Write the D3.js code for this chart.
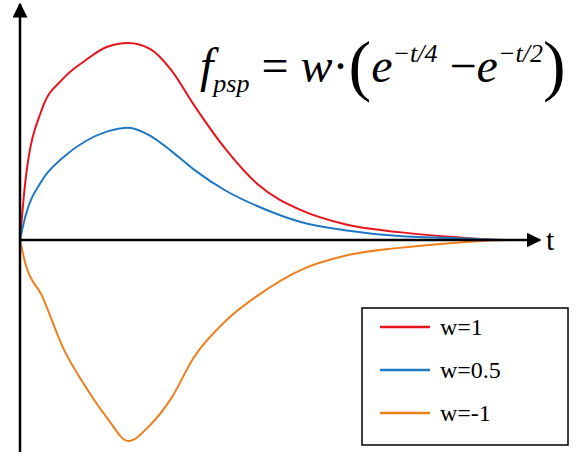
<!DOCTYPE html>
<html><head><meta charset="utf-8">
<script src="https://cdn.jsdelivr.net/npm/d3@7"></script>
<style>body{margin:0;background:#fff} text{font-family:"Liberation Serif","DejaVu Serif",serif}</style>
</head><body>
<svg id="c" width="588" height="458"></svg>
<script>
const tValues = [0, 0.25, 1, 2, 3, 4, 5, 6, 7, 8, 9.5, 11, 13, 15, 17.5, 20, 22.5, 24]
const redValues = [0, 0.3, 0.66, 0.82, 0.91, 0.98, 1.0, 0.97, 0.86, 0.69, 0.46, 0.28, 0.15, 0.08, 0.04, 0.015, 0, 0]
const blueValues = [0, 0.12, 0.3, 0.42, 0.5, 0.55, 0.57, 0.53, 0.45, 0.36, 0.25, 0.17, 0.09, 0.05, 0.02, 0.01, 0, 0]
const orangeValues = [0, -0.12, -0.28, -0.55, -0.74, -0.9, -1.02, -0.94, -0.8, -0.6, -0.41, -0.28, -0.15, -0.08, -0.04, -0.015, 0, 0]
const legendLabels = ['w=1', 'w=0.5', 'w=-1']
const colors = ['#e8141c', '#1f78c4', '#ee7f1c']

const svg = d3.select('#c')
const x = d3.scaleLinear().domain([0, 24]).range([20, 540])
const y = d3.scaleLinear().domain([-1, 1]).range([437, 43])

const defs = svg.append('defs')
defs.append('marker').attr('id', 'arr').attr('viewBox', '0 0 10 10').attr('refX', 9).attr('refY', 5)
  .attr('markerWidth', 6).attr('markerHeight', 6).attr('orient', 'auto')
  .append('path').attr('d', 'M0,0L10,5L0,10z').attr('fill', '#000')

const line = d3.line().x((d, i) => x(tValues[i])).y(d => y(d)).curve(d3.curveMonotoneX)
;[redValues, blueValues, orangeValues].forEach((s, i) => {
  svg.append('path').attr('d', line(s)).attr('fill', 'none').attr('stroke', colors[i]).attr('stroke-width', 2)
})

svg.append('line').attr('x1', x(0)).attr('x2', 540).attr('y1', y(0)).attr('y2', y(0))
  .attr('stroke', '#000').attr('stroke-width', 2.5).attr('marker-end', 'url(#arr)')
svg.append('line').attr('x1', x(0)).attr('x2', x(0)).attr('y1', 452).attr('y2', 4)
  .attr('stroke', '#000').attr('stroke-width', 2.5).attr('marker-end', 'url(#arr)')
svg.append('text').attr('x', 546).attr('y', 250).attr('font-size', 30).text('t')

// formula
const f = svg.append('text').attr('x', 200).attr('y', 82).attr('font-size', 48)
f.append('tspan').attr('font-style', 'italic').text('f')
f.append('tspan').attr('font-style', 'italic').attr('font-size', 26).attr('dy', 10).text('psp')
f.append('tspan').attr('dy', -10).text(' = ')
f.append('tspan').attr('font-style', 'italic').text('w')
f.append('tspan').text('·')
f.append('tspan').attr('font-size', 68).attr('dy', 6).text('(')
f.append('tspan').attr('font-style', 'italic').attr('dy', -6).text('e')
f.append('tspan').attr('font-style', 'italic').attr('font-size', 26).attr('dy', -20).text('−t/4')
f.append('tspan').attr('dy', 20).text(' −')
f.append('tspan').attr('font-style', 'italic').text('e')
f.append('tspan').attr('font-style', 'italic').attr('font-size', 26).attr('dy', -20).text('−t/2')
f.append('tspan').attr('font-size', 68).attr('dy', 26).text(')')

// legend
const lg = svg.append('g').attr('transform', 'translate(362,308)')
lg.append('rect').attr('width', 206).attr('height', 137).attr('fill', '#fff').attr('stroke', '#000').attr('stroke-width', 1.5)
legendLabels.forEach((l, i) => {
  const yy = 19 + i * 43
  lg.append('line').attr('x1', 18).attr('x2', 68).attr('y1', yy).attr('y2', yy).attr('stroke', colors[i]).attr('stroke-width', 2.5)
  lg.append('text').attr('x', 78).attr('y', yy + 8).attr('font-size', 24).text(l)
})
</script>
</body></html>
